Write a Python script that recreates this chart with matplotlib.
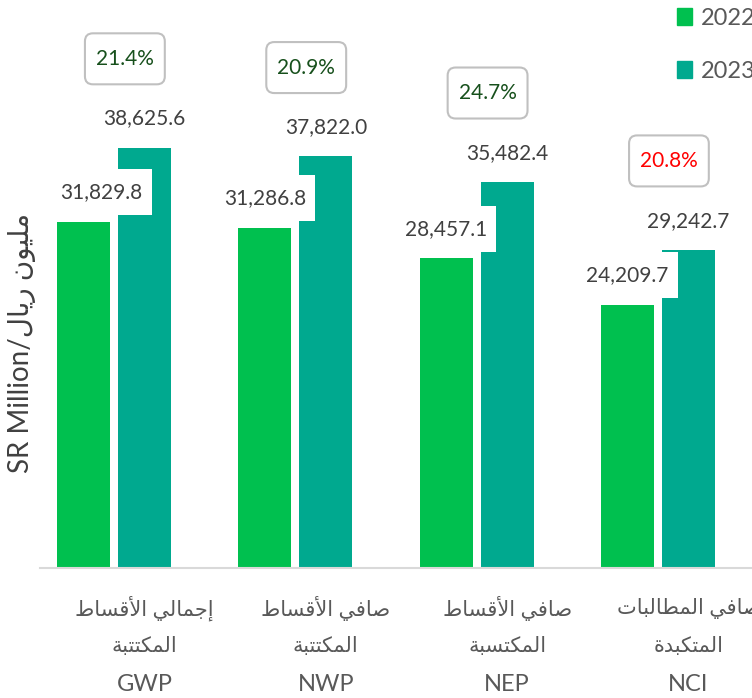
import matplotlib
matplotlib.use('Agg')
import matplotlib.pyplot as plt
from matplotlib.patches import Patch, BoxStyle
from matplotlib.path import Path

# data
codes = ['GWP', 'NWP', 'NEP', 'NCI']
names_ar = [('إجمالي الأقساط', 'المكتتبة'),
            ('صافي الأقساط', 'المكتتبة'),
            ('صافي الأقساط', 'المكتسبة'),
            ('صافي المطالبات', 'المتكبدة')]
v2022 = [31829.8, 31286.8, 28457.1, 24209.7]
v2023 = [38625.6, 37822.0, 35482.4, 29242.7]
growth = ['21.4%', '20.9%', '24.7%', '20.8%']
growth_col = ['#17501c', '#17501c', '#17501c', '#ff0000']

# tiny arabic shaper (matplotlib has no shaping / bidi)
AR = {'ا': (0xFE8D, False), 'أ': (0xFE83, False), 'إ': (0xFE87, False),
      'ب': (0xFE8F, True), 'ة': (0xFE93, False), 'ت': (0xFE95, True),
      'ج': (0xFE9D, True), 'د': (0xFEA9, False), 'ر': (0xFEAD, False),
      'س': (0xFEB1, True), 'ص': (0xFEB9, True), 'ط': (0xFEC1, True),
      'ف': (0xFED1, True), 'ق': (0xFED5, True), 'ك': (0xFED9, True),
      'ل': (0xFEDD, True), 'م': (0xFEE1, True), 'ن': (0xFEE5, True),
      'و': (0xFEED, False), 'ي': (0xFEF1, True)}
LAMALEF = {'ا': 0xFEFB, 'أ': 0xFEF7, 'إ': 0xFEF9}

def ar(s):
    units = []
    i = 0
    while i < len(s):
        c = s[i]
        if c == 'ل' and i + 1 < len(s) and s[i+1] in LAMALEF:
            units.append((LAMALEF[s[i+1]], False))
            i += 2
        elif c in AR:
            units.append(AR[c])
            i += 1
        else:
            units.append((c, None))
            i += 1
    out = []
    for k, (base, dual) in enumerate(units):
        if dual is None:
            out.append(base)
            continue
        prev = k > 0 and units[k-1][1] is True
        nxt = dual and k + 1 < len(units) and units[k+1][1] is not None
        form = (3 if nxt else 1) if prev else (2 if nxt else 0)
        out.append(chr(base + form))
    return ''.join(out)[::-1]

# label boxes with fixed height (pixels), independent of text height
def white_box(x0, y0, width, height, mutation_size):
    cy = y0 + height / 2
    l, r = x0 - 9, x0 + width + 9
    b, t = cy - 23, cy + 23
    return Path([(l, b), (r, b), (r, t), (l, t), (l, b)], closed=True)

def pct_box(x0, y0, width, height, mutation_size):
    cy = y0 + height / 2
    h = 51
    rnd = BoxStyle.Round(pad=0, rounding_size=8 / mutation_size)
    return rnd(x0 - 11, cy - h / 2, width + 22, h, mutation_size)

plt.rcParams['font.family'] = ['Lato', 'DejaVu Sans']

green = '#00c04f'
teal = '#00a98f'

fig = plt.figure(figsize=(7.52, 6.98), dpi=100)
ax = fig.add_axes([40/752, 1 - 568/698, 712/752, 568/698])

x = list(range(len(codes)))
w = 0.292
off = 0.168
ax.bar([i - off for i in x], v2022, w, color=green, zorder=2)
ax.bar([i + off for i in x], v2023, w, color=teal, zorder=2)

ax.set_xlim(-0.408, 3.518)
ax.set_ylim(0, 52200)
for s in ['left', 'right', 'top']:
    ax.spines[s].set_visible(False)
ax.spines['bottom'].set_color('#d9d9d9')
ax.spines['bottom'].set_linewidth(1.5)
ax.set_xticks([])
ax.set_yticks([])

for i in x:
    nudge = 13 if i == 0 else 0
    ax.annotate(f'{v2022[i]:,.1f}', (i - off, v2022[i]), xytext=(nudge, 21), textcoords='offset points',
                ha='center', va='center', fontsize=15, color='#404040', zorder=4,
                bbox=dict(boxstyle=white_box, fc='white', ec='none'))
    ax.annotate(f'{v2023[i]:,.1f}', (i + off, v2023[i]), xytext=(0, 21), textcoords='offset points',
                ha='center', va='center', fontsize=15, color='#404040', zorder=3,
                bbox=dict(boxstyle=white_box, fc='white', ec='none'))
    ax.annotate(growth[i], (i + 0.06, v2023[i]), xytext=(0, 64), textcoords='offset points',
                ha='center', va='center', fontsize=15, color=growth_col[i], zorder=5,
                bbox=dict(boxstyle=pct_box, fc='white', ec='#c0c0c0', lw=1.5))
    rows = [(ar(names_ar[i][0]), -29, 15), (ar(names_ar[i][1]), -56, 15), (codes[i], -84, 17)]
    for txt, dy, fs in rows:
        ax.annotate(txt, (i + off, 0), xycoords=('data', 'axes fraction'), xytext=(0, dy),
                    textcoords='offset points', ha='center', va='center', fontsize=fs,
                    color='#595959', annotation_clip=False)

fig.text(22/752, 1 - 343/698, 'SR Million/' + ar('مليون ريال'), rotation=90,
         ha='center', va='center', fontsize=20, color='#404040')

fig.legend(handles=[Patch(color=green, label='2022'), Patch(color=teal, label='2023')],
           loc='upper left', bbox_to_anchor=(677/752, 1 - 8/698), frameon=False,
           fontsize=17, labelcolor='#595959', handlelength=0.65, handleheight=0.7,
           handletextpad=0.35, labelspacing=1.35, borderpad=0, borderaxespad=0)

plt.savefig('out.png', format='png')
plt.close()
